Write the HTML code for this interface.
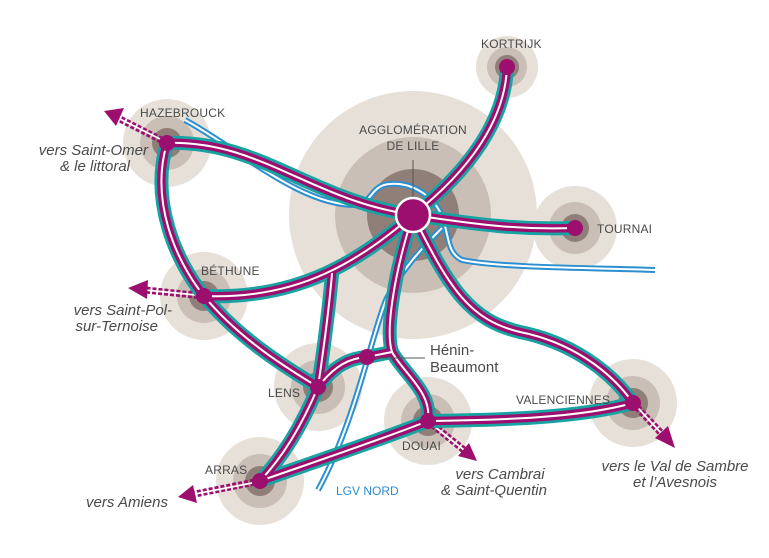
<!DOCTYPE html>
<html><head><meta charset="utf-8"><style>
html,body{margin:0;padding:0;background:#fff;}
svg{display:block;font-family:"Liberation Sans",sans-serif;}
.c{font-size:12px;fill:#4a4a4a;letter-spacing:0.2px;}
.v{font-size:15px;fill:#4a4a4a;font-style:italic;}
</style></head><body>
<svg width="769" height="558" viewBox="0 0 769 558" xmlns="http://www.w3.org/2000/svg">
<defs>
<path id="p1" d="M167,143 C260,140 310,200 413,215"/>
<path id="p2" d="M167,143 C150,200 175,260 204,296 C240,340 290,370 318,387 C300,430 280,460 260,481"/>
<path id="p3" d="M204,296 C300,300 360,260 413,215"/>
<path id="p4" d="M413,215 C470,170 505,120 507,67"/>
<path id="p5" d="M413,215 C480,225 520,230 575,228"/>
<path id="p6" d="M332,274 C328,320 322,360 318,387"/>
<path id="p7" d="M413,215 C395,270 385,330 392,352 C405,375 432,392 428,421"/>
<path id="p8" d="M318,387 C335,365 350,358 367,357 L392,352"/>
<path id="p9" d="M413,215 C450,290 470,320 520,332 C570,342 610,370 633,403"/>
<path id="p10" d="M428,421 C500,420 580,418 633,403"/>
<path id="p11" d="M260,481 C320,460 380,440 428,421"/>
<g id="rails"><use href="#p1"/><use href="#p2"/><use href="#p3"/><use href="#p4"/><use href="#p5"/><use href="#p6"/><use href="#p7"/><use href="#p8"/><use href="#p9"/><use href="#p10"/><use href="#p11"/></g>
<path id="b1" d="M185,120 C240,150 300,205 355,205 C372,205 370,185 390,184 C412,182 432,196 440,212 C450,232 445,252 462,260 C500,268 600,268 655,270"/>
<path id="b2" d="M442,228 C420,250 400,272 386,300 C370,340 356,420 318,490"/>
</defs>
<g>
<circle cx="413" cy="215" r="124" fill="#e6e0d8"/><circle cx="413" cy="215" r="78" fill="#c9bfb6"/><circle cx="413" cy="215" r="46" fill="#8f7f78"/>
<g fill="#e6e0d8"><circle cx="507" cy="67" r="31"/><circle cx="575" cy="228" r="42"/><circle cx="167" cy="143" r="44"/><circle cx="204" cy="296" r="44"/><circle cx="318" cy="387" r="44"/><circle cx="428" cy="421" r="44"/><circle cx="633" cy="403" r="44"/><circle cx="260" cy="481" r="44"/></g>
<g fill="#c9bfb6"><circle cx="507" cy="67" r="20"/><circle cx="575" cy="228" r="26"/><circle cx="167" cy="143" r="27"/><circle cx="204" cy="296" r="27"/><circle cx="318" cy="387" r="27"/><circle cx="428" cy="421" r="27"/><circle cx="633" cy="403" r="27"/><circle cx="260" cy="481" r="27"/></g>
<g fill="#8f7f78"><circle cx="507" cy="67" r="12"/><circle cx="575" cy="228" r="14"/><circle cx="167" cy="143" r="15"/><circle cx="204" cy="296" r="15"/><circle cx="318" cy="387" r="15"/><circle cx="428" cy="421" r="15"/><circle cx="633" cy="403" r="15"/><circle cx="260" cy="481" r="15"/></g>
</g>
<g fill="none"><use href="#b1" stroke="#2b8fd0" stroke-width="6"/><use href="#b1" stroke="#fff" stroke-width="2"/>
<use href="#b2" stroke="#2b8fd0" stroke-width="6"/><use href="#b2" stroke="#fff" stroke-width="2"/></g>
<g fill="none" stroke="#9c0f6e" stroke-width="7" stroke-dasharray="4 2">
<line x1="167" y1="143" x2="118" y2="118"/><line x1="204" y1="296" x2="145" y2="290"/><line x1="260" y1="481" x2="195" y2="494"/><line x1="428" y1="421" x2="464" y2="450"/><line x1="633" y1="403" x2="662" y2="434"/></g>
<g fill="none" stroke="#fff" stroke-width="1.8">
<line x1="160" y1="139" x2="118" y2="118"/><line x1="196" y1="295" x2="145" y2="290"/><line x1="252" y1="483" x2="195" y2="494"/><line x1="434" y1="426" x2="464" y2="450"/><line x1="638" y1="408" x2="662" y2="434"/></g>
<g fill="#9c0f6e">
<polygon points="104,111 124,108 116,126"/><polygon points="128,288 148,280 147,299"/><polygon points="178,497 193,485 197,503"/><polygon points="477,461 458,456 469,443"/><polygon points="675,448 655,438 668,426"/></g>
<g fill="none" stroke-linecap="round">
<g stroke="#17a2a3" stroke-width="14"><use href="#rails"/></g>
<g stroke="#9c0f6e" stroke-width="8.5"><use href="#rails"/></g>
<g stroke="#fff" stroke-width="2"><use href="#rails"/></g>
</g>
<line x1="413" y1="160" x2="413" y2="198" stroke="#555" stroke-width="1"/>
<line x1="370" y1="358" x2="425" y2="358" stroke="#555" stroke-width="1"/>
<circle cx="413" cy="215" r="17" fill="#9c0f6e" stroke="#fff" stroke-width="2.5"/>
<g fill="#9c0f6e"><circle cx="507" cy="67" r="8"/><circle cx="575" cy="228" r="8"/><circle cx="167" cy="143" r="8"/><circle cx="204" cy="296" r="8"/><circle cx="318" cy="387" r="8"/><circle cx="367" cy="357" r="8"/><circle cx="428" cy="421" r="8"/><circle cx="633" cy="403" r="8"/><circle cx="260" cy="481" r="8"/></g>
<text class="c" x="481" y="48">KORTRIJK</text>
<text class="c" x="413" y="134" text-anchor="middle">AGGLOMÉRATION</text>
<text class="c" x="413" y="150" text-anchor="middle">DE LILLE</text>
<text class="c" x="597" y="233">TOURNAI</text>
<text class="c" x="140" y="117">HAZEBROUCK</text>
<text class="c" x="201" y="275">BÉTHUNE</text>
<text class="c" x="268" y="397">LENS</text>
<text class="c" x="402" y="450">DOUAI</text>
<text class="c" x="516" y="404">VALENCIENNES</text>
<text class="c" x="205" y="474">ARRAS</text>
<text x="336" y="495" font-size="12" fill="#2b8fd0">LGV NORD</text>
<text x="430" y="355" font-size="15" fill="#4a4a4a">Hénin-</text>
<text x="430" y="372" font-size="15" fill="#4a4a4a">Beaumont</text>
<text class="v" x="148" y="155" text-anchor="end">vers Saint-Omer</text>
<text class="v" x="130" y="171" text-anchor="end">&amp; le littoral</text>
<text class="v" x="172" y="315" text-anchor="end">vers Saint-Pol-</text>
<text class="v" x="158" y="331" text-anchor="end">sur-Ternoise</text>
<text class="v" x="168" y="507" text-anchor="end">vers Amiens</text>
<text class="v" x="500" y="479" text-anchor="middle">vers Cambrai</text>
<text class="v" x="494" y="495" text-anchor="middle">&amp; Saint-Quentin</text>
<text class="v" x="675" y="471" text-anchor="middle">vers le Val de Sambre</text>
<text class="v" x="675" y="487" text-anchor="middle">et l’Avesnois</text>
</svg>
</body></html>
